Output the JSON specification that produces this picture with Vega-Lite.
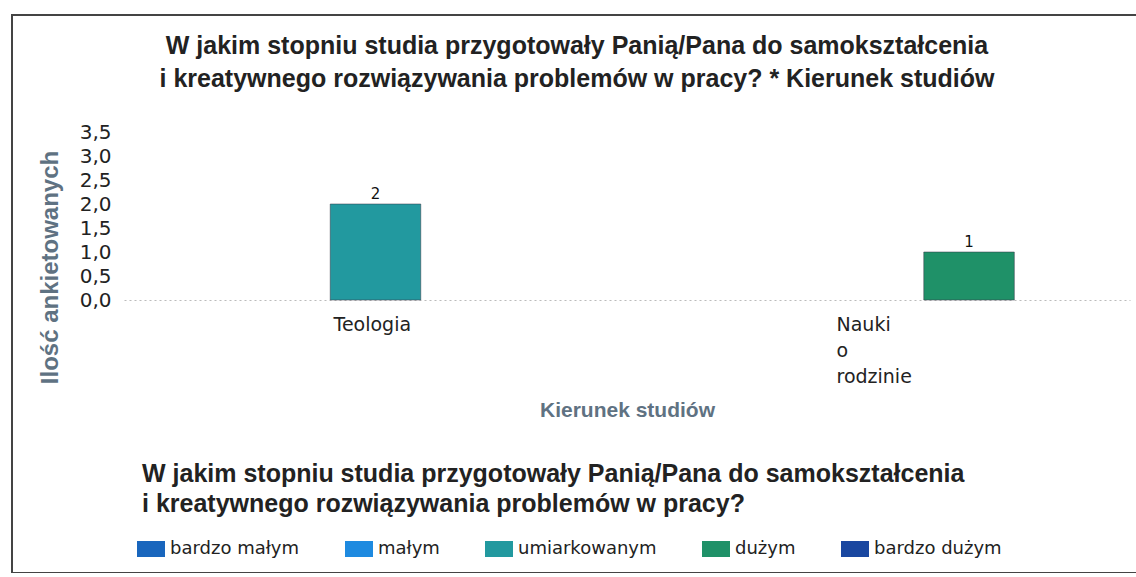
{
  "$schema": "https://vega.github.io/schema/vega-lite/v6.json",
  "autosize": "none",
  "padding": {"left": 12, "top": 15, "right": 0, "bottom": 0},
  "width": 1130,
  "height": 558,
  "background": "white",
  "config": {
    "view": {"stroke": "#444", "strokeWidth": 2},
    "font": "Liberation Sans"
  },
  "title": {
    "text": ["W jakim stopniu studia przygotowały Panią/Pana do samokształcenia", "i kreatywnego rozwiązywania problemów w pracy? * Kierunek studiów"],
    "font": "Liberation Sans",
    "fontSize": 25,
    "fontWeight": "bold",
    "color": "#222",
    "lineHeight": 33,
    "anchor": "middle",
    "frame": "group",
    "offset": -77
  },
  "data": {
    "values": [
      {"kierunek": "Teologia", "ocena": "umiarkowanym", "ilosc": 2},
      {"kierunek": "Nauki o rodzinie", "ocena": "dużym", "ilosc": 1}
    ]
  },
  "encoding": {
    "x": {
      "field": "kierunek",
      "type": "nominal",
      "sort": null,
      "scale": {"domain": ["Teologia", "Nauki o rodzinie"], "range": [112, 1118], "paddingInner": 0.1, "paddingOuter": 0.05},
      "axis": {
        "orient": "bottom",
        "offset": -273,
        "domain": true,
        "domainColor": "#bbbbbb",
        "domainDash": [2, 3],
        "domainWidth": 1,
        "ticks": false,
        "grid": false,
        "labelAngle": 0,
        "labelAlign": "left",
        "labelBaseline": "top",
        "labelOffset": -42,
        "labelPadding": 15,
        "labelFont": "DejaVu Sans",
        "labelFontSize": 19,
        "labelColor": "#222",
        "labelLineHeight": 26,
        "labelLimit": 0,
        "labelExpr": "split(datum.label, ' ')",
        "title": "Kierunek studiów",
        "titleFont": "Liberation Sans",
        "titleFontSize": 21,
        "titleFontWeight": "bold",
        "titleColor": "#5f7282",
        "titleY": 110,
        "titleBaseline": "middle"
      }
    },
    "xOffset": {
      "field": "ocena",
      "type": "nominal",
      "scale": {"domain": ["bardzo małym", "małym", "umiarkowanym", "dużym", "bardzo dużym"], "paddingInner": 0, "paddingOuter": 0}
    },
    "y": {
      "field": "ilosc",
      "type": "quantitative",
      "scale": {"domain": [0, 3.5], "range": [285, 117], "nice": false, "zero": true},
      "axis": {
        "orient": "left",
        "offset": -100,
        "domain": false,
        "ticks": false,
        "grid": false,
        "values": [0, 0.5, 1, 1.5, 2, 2.5, 3, 3.5],
        "labelExpr": "replace(format(datum.value, '.1f'), '.', ',')",
        "labelFont": "DejaVu Sans",
        "labelFontSize": 20,
        "labelColor": "#222",
        "labelPadding": 1,
        "labelOverlap": false,
        "labelBound": false,
        "title": "Ilość ankietowanych",
        "titleFont": "Liberation Sans",
        "titleFontSize": 24,
        "titleFontWeight": "bold",
        "titleColor": "#5f7282",
        "titleX": -62,
        "titleY": 252,
        "titleAlign": "center",
        "titleBaseline": "middle"
      }
    }
  },
  "layer": [
    {
      "mark": {"type": "bar", "stroke": "#334", "strokeWidth": 1, "strokeOpacity": 0.5},
      "encoding": {
        "color": {
          "field": "ocena",
          "type": "nominal",
          "scale": {
            "domain": ["bardzo małym", "małym", "umiarkowanym", "dużym", "bardzo dużym"],
            "range": ["#1966bd", "#1e8ae0", "#22999f", "#1f9168", "#1a47a0"]
          },
          "legend": {
            "orient": "none",
            "legendX": 130,
            "legendY": 447,
            "direction": "horizontal",
            "columns": 5,
            "title": ["W jakim stopniu studia przygotowały Panią/Pana do samokształcenia", "i kreatywnego rozwiązywania problemów w pracy?"],
            "titleFont": "Liberation Sans",
            "titleFontSize": 25,
            "titleFontWeight": "bold",
            "titleColor": "#222",
            "titleLineHeight": 30,
            "titleLimit": 2000,
            "titlePadding": 23,
            "symbolType": "M-1.75,-1H1.75V1H-1.75Z",
            "symbolSize": 256,
            "symbolStrokeWidth": 0,
            "symbolOpacity": 1,
            "labelFont": "DejaVu Sans",
            "labelFontSize": 18,
            "labelColor": "#222",
            "labelOffset": 10,
            "labelLimit": 400,
            "columnPadding": 45
          }
        }
      }
    },
    {
      "mark": {"type": "text", "baseline": "bottom", "dy": -2, "font": "DejaVu Sans", "fontSize": 15, "color": "#111"},
      "encoding": {"text": {"field": "ilosc", "type": "quantitative"}}
    }
  ]
}
